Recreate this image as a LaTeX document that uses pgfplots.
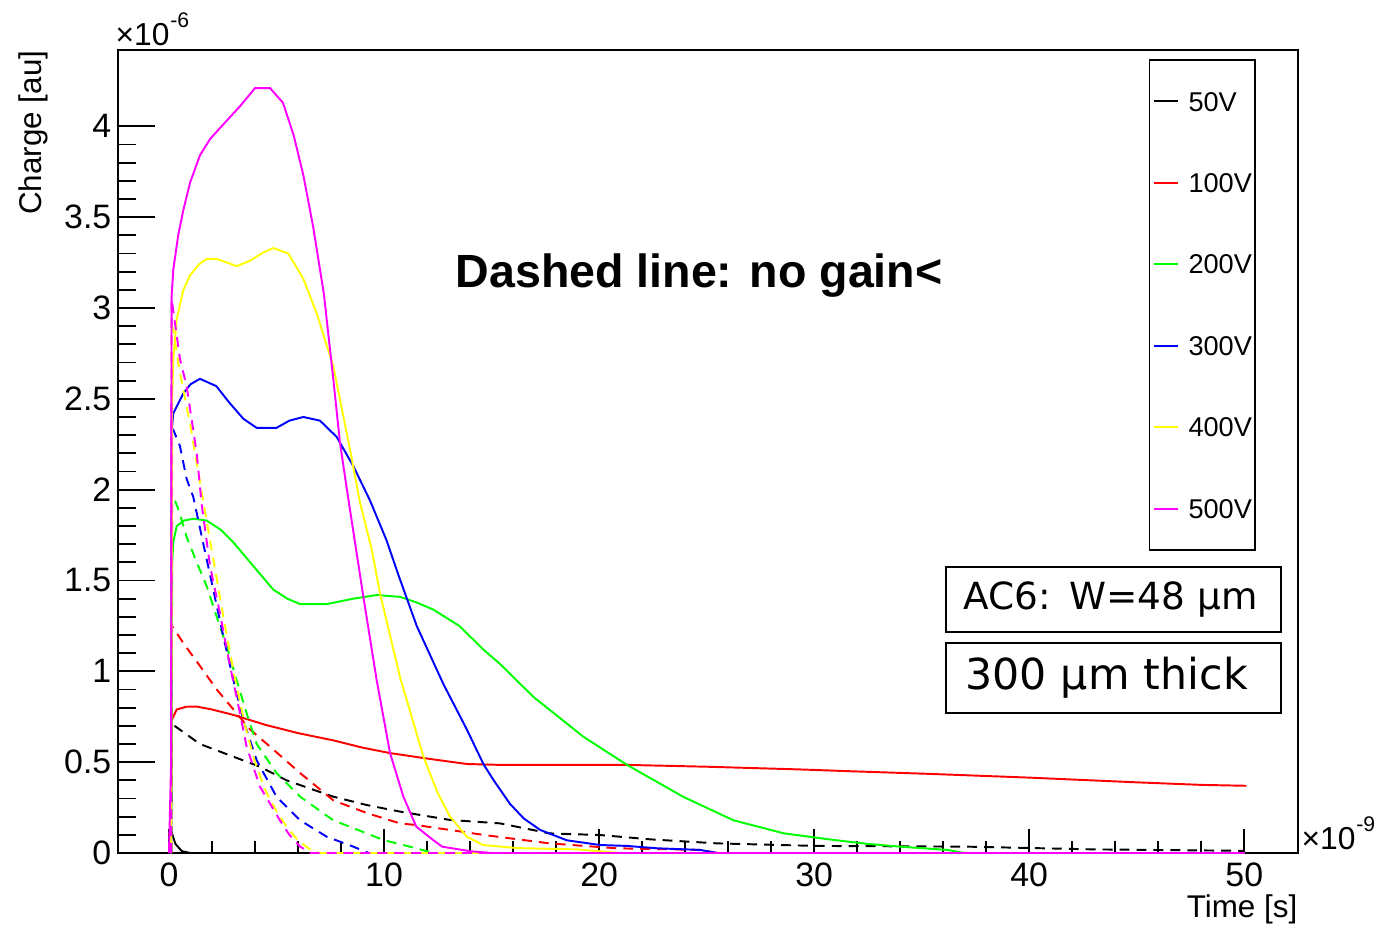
\documentclass[border=0pt]{standalone}
\usepackage{pgfplots}
\pgfplotsset{compat=1.18}
\usepackage{fontspec}
\setmainfont{Liberation Sans}
\newfontfamily\dejavu{DejaVu Sans}
\definecolor{rred}{RGB}{255,0,0}
\definecolor{rgreen}{RGB}{0,255,0}
\definecolor{rblue}{RGB}{0,0,255}
\definecolor{ryellow}{RGB}{255,255,0}
\definecolor{rmag}{RGB}{255,0,255}
\begin{document}
\begin{tikzpicture}
\useasboundingbox (0pt,0pt) rectangle (390.66pt,262.24pt);
\begin{axis}[
  at={(33.453pt,20.412pt)}, anchor=south west,
  scale only axis, width=334.53pt, height=227.65pt,
  xmin=-2.37, xmax=52.5, ymin=0, ymax=4.42,
  axis line style={line width=0.65pt},
  tick align=inside,
  xtick pos=left, ytick pos=left,
  xtick={0,10,20,30,40,50}, xticklabels={0,10,20,30,40,50},
  ytick={0,0.5,1,1.5,2,2.5,3,3.5,4}, yticklabels={0,0.5,1,1.5,2,2.5,3,3.5,4},
  minor x tick num=4, minor y tick num=4,
  scaled ticks=false,
  major tick length=10.5pt, minor tick length=5.1pt,
  every tick/.style={black, line width=0.55pt},
  xtick style={/pgfplots/major tick length=6.8pt, /pgfplots/minor tick length=3.3pt},
  tick label style={font=\fontsize{9.6}{10}\selectfont},
  yticklabel style={inner sep=0pt, xshift=-1.7pt},
  xticklabel style={inner sep=0pt, yshift=-2.5pt},
  legend image code/.code={\draw[#1] (0.9pt,0pt) -- (7.7pt,0pt);},
  legend style={at={(rel axis cs:0.9644,0.9888)}, anchor=north east, draw=black, line width=0.5pt,
     font=\fontsize{7.7}{8}\selectfont, inner xsep=0.9pt, inner ysep=8.9pt,
     row sep=17.5pt, column sep=2.8pt, fill=white,
     nodes={inner sep=0pt, text height=5.6pt, text depth=0pt}},
  legend cell align=left,
  clip=true,
]
% 50V
\addplot[black, line width=0.55pt] coordinates {(0,0) (0.05,0.14) (0.3,0.05) (0.6,0.01) (1,0) (50,0)};
\addlegendentry{50V}
\addplot[black, line width=0.55pt, dash pattern=on 2.8pt off 2pt, forget plot] coordinates {
(0.1,0) (0.12,0.72) (0.2,0.705) (1.44,0.60) (3.0,0.53) (4.23,0.475) (5.47,0.40) (7.64,0.31) (9.2,0.264) (10.74,0.228) (13.07,0.182) (15.4,0.163) (17.7,0.108) (20.05,0.099) (22.4,0.075) (25.5,0.053) (30.1,0.039) (37.1,0.035) (43,0.02) (50,0.012)};
% 100V
\addplot[rred, line width=0.55pt] coordinates {
(0.1,0) (0.12,0.73) (0.36,0.79) (0.8,0.805) (1.29,0.806) (2.0,0.79) (3.0,0.76) (4.5,0.705) (6,0.66) (7.64,0.62) (9,0.58) (10.28,0.55) (12,0.52) (13.85,0.49) (15.4,0.485) (21.3,0.485) (25,0.475) (29.35,0.46) (31.7,0.45) (35.5,0.435) (40,0.415) (44.8,0.39) (48,0.375) (50.1,0.37)};
\addlegendentry{100V}
\addplot[rred, line width=0.55pt, dash pattern=on 2.8pt off 2pt, forget plot] coordinates {
(0.1,0) (0.12,1.25) (0.2,1.24) (0.67,1.155) (1.44,1.03) (2.22,0.90) (3.0,0.79) (3.77,0.68) (4.85,0.57) (6.1,0.44) (7.64,0.29) (8.42,0.255) (9.2,0.22) (10.74,0.163) (11.5,0.154) (13.07,0.127) (14.6,0.1) (17.7,0.053) (20.8,0.026) (24.7,0.017) (25.5,0) (50,0)};
% 200V
\addplot[rgreen, line width=0.55pt] coordinates {
(0.1,0) (0.15,1.6) (0.2,1.71) (0.36,1.80) (0.7,1.83) (1.13,1.84) (1.75,1.83) (2.4,1.78) (2.99,1.71) (3.92,1.58) (4.85,1.45) (5.5,1.40) (6.1,1.37) (7.33,1.37) (8.57,1.40) (9.66,1.42) (10.74,1.41) (11.5,1.38) (12.29,1.34) (13.5,1.25) (14.62,1.12) (15.4,1.04) (16.94,0.86) (19.27,0.64) (21.3,0.485) (23.9,0.31) (26.25,0.18) (28.6,0.108) (30.9,0.072) (32.5,0.05) (34,0.035) (36.2,0.017) (37,0) (50,0)};
\addlegendentry{200V}
\addplot[rgreen, line width=0.55pt, dash pattern=on 2.8pt off 2pt, forget plot] coordinates {
(0.1,0) (0.15,1.94) (0.28,1.94) (0.5,1.87) (0.82,1.74) (1.29,1.60) (1.75,1.47) (2.22,1.30) (2.68,1.14) (3.15,0.95) (3.61,0.77) (4.08,0.60) (5.0,0.44) (6.1,0.31) (7.64,0.18) (8.4,0.145) (9.96,0.072) (11.5,0.026) (12.3,0) (50,0)};
% 300V
\addplot[rblue, line width=0.55pt] coordinates {
(0.1,0) (0.12,2.31) (0.2,2.42) (0.67,2.53) (1.0,2.58) (1.44,2.61) (2.2,2.57) (2.8,2.48) (3.46,2.39) (4.08,2.34) (5.0,2.34) (5.6,2.38) (6.25,2.40) (7.02,2.38) (7.8,2.29) (8.57,2.13) (9.35,1.94) (10.12,1.72) (10.67,1.53) (11.52,1.25) (12.76,0.93) (13.85,0.68) (14.62,0.49) (15.1,0.40) (15.86,0.27) (16.5,0.19) (17.26,0.127) (18.5,0.07) (20.05,0.044) (21.3,0.039) (22.7,0.026) (24.7,0.017) (25.5,0) (50,0)};
\addlegendentry{300V}
\addplot[rblue, line width=0.55pt, dash pattern=on 2.8pt off 2pt, forget plot] coordinates {
(0.1,0) (0.12,2.33) (0.2,2.33) (0.51,2.24) (0.82,2.06) (1.13,1.96) (1.6,1.70) (2.06,1.45) (2.53,1.19) (3.0,0.95) (3.46,0.73) (4.08,0.51) (5.0,0.31) (6.1,0.18) (7.33,0.09) (8.57,0.035) (9.3,0) (50,0)};
% 400V
\addplot[ryellow, line width=0.55pt] coordinates {
(0.1,0) (0.15,2.5) (0.2,2.72) (0.36,2.94) (0.67,3.10) (0.98,3.18) (1.4,3.24) (1.75,3.27) (2.2,3.27) (2.7,3.25) (3.15,3.23) (3.77,3.26) (4.3,3.30) (4.85,3.33) (5.55,3.30) (6.25,3.16) (6.87,2.97) (7.64,2.68) (8.42,2.22) (8.88,1.93) (9.43,1.67) (9.81,1.43) (10.74,0.97) (11.83,0.53) (12.5,0.33) (13.07,0.2) (13.85,0.09) (14.6,0.044) (16.2,0.027) (19,0.02) (20,0.01) (21,0) (50,0)};
\addlegendentry{400V}
\addplot[ryellow, line width=0.55pt, dash pattern=on 2.8pt off 2pt, forget plot] coordinates {
(0.1,0) (0.12,2.9) (0.2,2.88) (0.5,2.65) (1.0,2.35) (1.5,2.0) (2.0,1.66) (2.5,1.32) (3.0,1.0) (3.5,0.72) (4.0,0.5) (4.5,0.34) (5.0,0.23) (5.5,0.14) (6.0,0.07) (6.5,0.025) (7.0,0) (50,0)};
% 500V
\addplot[rmag, line width=0.55pt] coordinates {
(0,0) (0.1,0.5) (0.12,3.06) (0.2,3.21) (0.43,3.40) (0.67,3.54) (0.98,3.69) (1.44,3.84) (1.91,3.93) (2.6,4.02) (3.3,4.11) (4.0,4.21) (4.7,4.21) (5.3,4.13) (5.8,3.95) (6.25,3.73) (6.7,3.45) (7.2,3.08) (7.64,2.61) (7.95,2.26) (8.3,1.98) (9.04,1.41) (9.66,0.95) (10.28,0.55) (10.9,0.31) (11.5,0.145) (12.3,0.07) (12.7,0.035) (14,0.01) (15,0) (50,0)};
\addlegendentry{500V}
\addplot[rmag, line width=0.55pt, dash pattern=on 2.8pt off 2pt, forget plot] coordinates {
(0.1,0) (0.12,3.05) (0.17,3.01) (0.51,2.72) (0.82,2.57) (1.29,2.20) (1.52,1.92) (1.91,1.58) (2.37,1.32) (2.84,1.03) (3.3,0.77) (3.61,0.585) (4.23,0.365) (5.16,0.18) (5.6,0.1) (6.1,0.035) (6.6,0) (50,0)};
\node[font=\bfseries\fontsize{13.2}{14}\selectfont] at (axis cs:24.65,3.18) {Dashed line: no gain<};
\end{axis}
\begin{scope}[x=0.2835pt,y=0.2835pt]
\node[draw, line width=0.6pt, fill=white, minimum width=95pt, minimum height=18.4pt, text width=88pt, inner xsep=3.5pt, align=left, font=\dejavu\fontsize{10.6}{12}\selectfont] at (1113.5,325.5) {\hspace*{1.5pt}AC6: W=48 µm};
\node[draw, line width=0.6pt, fill=white, minimum width=95pt, minimum height=19.8pt, text width=88pt, inner xsep=3.5pt, align=left, font=\dejavu\fontsize{12.1}{13}\selectfont] at (1113.5,247) {\hspace*{2pt}300 µm thick};
\node[anchor=base west, inner sep=0pt, font=\fontsize{9}{10}\selectfont] at (115,880) {×10\kern0.2pt\raisebox{0.55em}{\fontsize{6}{7}\selectfont -6}};
\node[anchor=base west, inner sep=0pt, font=\fontsize{9}{10}\selectfont] at (1301,76) {×10\kern0.2pt\raisebox{0.55em}{\fontsize{6}{7}\selectfont -9}};
\node[anchor=base east, inner sep=0pt, font=\fontsize{8.9}{10}\selectfont] at (1298,8) {Time [s]};
\node[anchor=base east, rotate=90, inner sep=0pt, font=\fontsize{8.9}{10}\selectfont] at (41,875) {Charge [au]};
\end{scope}
\end{tikzpicture}
\end{document}
